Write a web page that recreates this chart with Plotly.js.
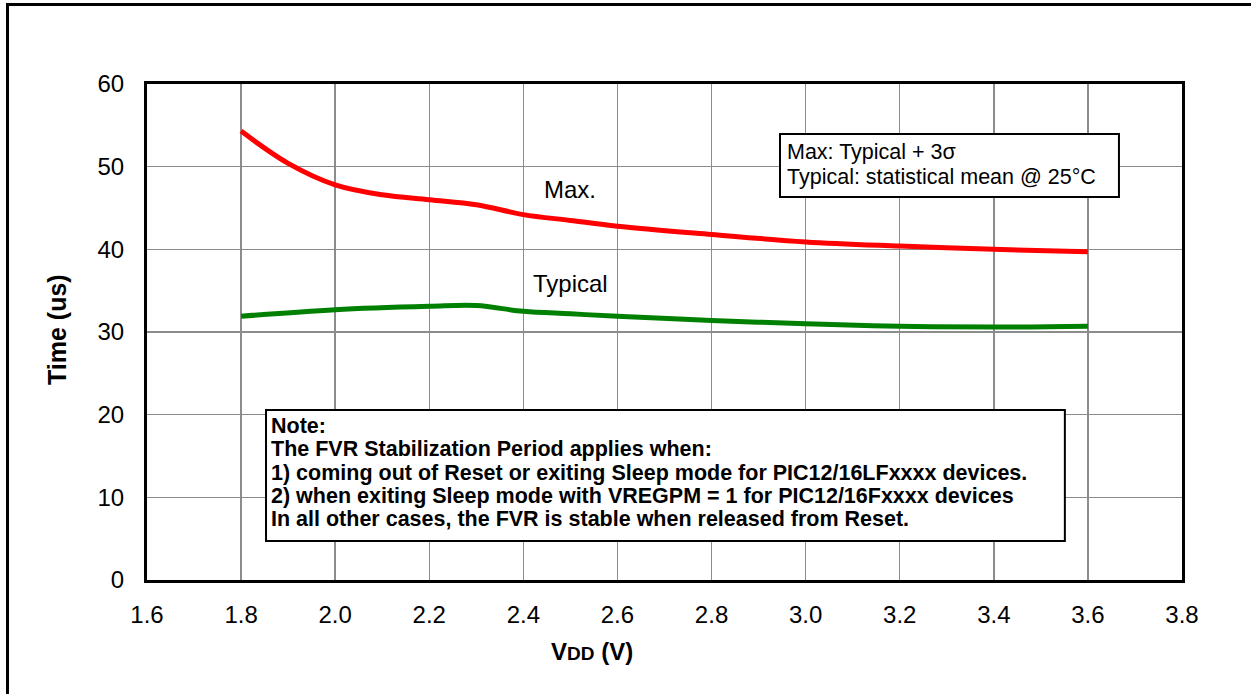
<!DOCTYPE html>
<html>
<head>
<meta charset="utf-8">
<script src="https://cdn.plot.ly/plotly-3.0.1.min.js"></script>
<style>
  html, body { margin: 0; padding: 0; background: #fff; }
  #chart { position: absolute; left: 0; top: 0; width: 1251px; height: 694px; }
  #frameTop { position: absolute; left: 6px; top: 3px; width: 1245px; height: 3px; background: #000; }
  #frameLeft { position: absolute; left: 6px; top: 3px; width: 3px; height: 691px; background: #000; }
</style>
</head>
<body>
<div id="chart"></div>
<div id="frameTop"></div>
<div id="frameLeft"></div>
<script>
// Data
const maxVdd = [1.8, 1.9, 2.0, 2.1, 2.2, 2.3, 2.4, 2.5, 2.6, 2.8, 3.0, 3.2, 3.4, 3.6];
const maxTime = [54.3, 50.4, 47.8, 46.6, 46.0, 45.4, 44.2, 43.5, 42.8, 41.8, 40.9, 40.4, 40.0, 39.7];
const typVdd = [1.8, 2.0, 2.2, 2.3, 2.4, 2.5, 2.6, 2.8, 3.0, 3.2, 3.4, 3.6];
const typTime = [31.9, 32.7, 33.1, 33.2, 32.5, 32.2, 31.9, 31.4, 31.0, 30.7, 30.6, 30.7];
const seriesNames = ["Max.", "Typical"];
const legendLines = ["Max: Typical + 3\u03c3", "Typical: statistical mean @ 25\u00b0C"];
const noteLines = [
  "Note:",
  "The FVR Stabilization Period applies when:",
  "1) coming out of Reset or exiting Sleep mode for PIC12/16LFxxxx devices.",
  "2) when exiting Sleep mode with VREGPM = 1 for PIC12/16Fxxxx devices",
  "In all other cases, the FVR is stable when released from Reset."
];

const FONT = "Arial, 'Liberation Sans', sans-serif";

const traces = [
  { x: maxVdd, y: maxTime, name: seriesNames[0], mode: "lines",
    line: { color: "#ff0000", width: 5, shape: "spline", smoothing: 1 } },
  { x: typVdd, y: typTime, name: seriesNames[1], mode: "lines",
    line: { color: "#008000", width: 5, shape: "spline", smoothing: 1 } }
];

const annotations = [];
annotations.push({ x: 2.5, y: 47.2, xref: "x", yref: "y", text: seriesNames[0], showarrow: false,
  font: { family: FONT, size: 24, color: "#000" }, xanchor: "center", yanchor: "middle" });
annotations.push({ x: 2.5, y: 35.9, xref: "x", yref: "y", text: seriesNames[1], showarrow: false,
  font: { family: FONT, size: 24, color: "#000" }, xanchor: "center", yanchor: "middle" });

const legendY = [51.77, 48.75];
legendLines.forEach((t, i) => annotations.push({
  x: 2.956, y: legendY[i], xref: "x", yref: "y", text: t, showarrow: false,
  font: { family: FONT, size: 21.5, color: "#000" }, xanchor: "left", yanchor: "middle" }));

const noteY = [18.69, 15.85, 13.00, 10.16, 7.32];
noteLines.forEach((t, i) => annotations.push({
  x: 1.862, y: noteY[i], xref: "x", yref: "y", text: "<b>" + t + "</b>", showarrow: false,
  borderpad: 0,
  font: { family: FONT, size: 21.5, color: "#000" }, xanchor: "left", yanchor: "middle" }));

annotations.push({ x: -0.087, y: 0.506, xref: "paper", yref: "paper", text: "<b>Time (us)</b>",
  textangle: -90, showarrow: false, font: { family: FONT, size: 25, color: "#000" },
  xanchor: "center", yanchor: "middle" });
annotations.push({ x: 0.43, y: -0.145, xref: "paper", yref: "paper",
  text: "<b>V<span style='font-size:19px'>DD</span> (V)</b>",
  showarrow: false, font: { family: FONT, size: 24, color: "#000" },
  xanchor: "center", yanchor: "middle" });

const shapes = [
  { type: "rect", xref: "x", yref: "y", x0: 2.9455, x1: 3.666, y0: 46.33, y1: 53.95,
    line: { color: "#000", width: 2 }, fillcolor: "#fff", layer: "above" },
  { type: "rect", xref: "x", yref: "y", x0: 1.853, x1: 3.551, y0: 4.72, y1: 20.56,
    line: { color: "#000", width: 2 }, fillcolor: "#fff", layer: "above" }
];

const layout = {
  width: 1251, height: 694,
  margin: { l: 147, r: 69, t: 84, b: 114 },
  paper_bgcolor: "#fff", plot_bgcolor: "#fff",
  showlegend: false,
  font: { family: FONT, size: 24, color: "#000" },
  xaxis: {
    range: [1.6, 3.8], dtick: 0.2, tick0: 1.6, tickformat: ".1f",
    showgrid: true, gridcolor: "#8c8c8c", gridwidth: 1.5,
    showline: true, linecolor: "#000", linewidth: 3, mirror: true,
    ticks: "outside", ticklen: 11, tickcolor: "rgba(0,0,0,0)",
    zeroline: false, tickfont: { family: FONT, size: 24, color: "#000" }
  },
  yaxis: {
    range: [0, 60], dtick: 10, tick0: 0,
    showgrid: true, gridcolor: "#8c8c8c", gridwidth: 1.5,
    showline: true, linecolor: "#000", linewidth: 3, mirror: true,
    ticks: "outside", ticklen: 15, tickcolor: "rgba(0,0,0,0)",
    zeroline: false, tickfont: { family: FONT, size: 24, color: "#000" }
  },
  annotations: annotations,
  shapes: shapes
};

Plotly.newPlot("chart", traces, layout, { staticPlot: true, displayModeBar: false });
</script>
</body>
</html>
